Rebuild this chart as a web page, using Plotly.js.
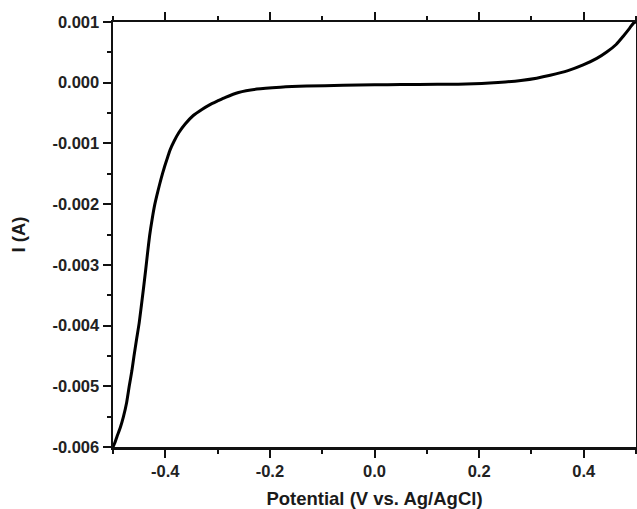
<!DOCTYPE html>
<html>
<head>
<meta charset="utf-8">
<script src="https://cdn.plot.ly/plotly-3.0.1.min.js"></script>
<style>html,body{margin:0;padding:0;background:#fff;}#chart{width:637px;height:509px;}</style>
</head>
<body>
<div id="chart"></div>
<script>
const potential = [-0.5, -0.496, -0.492, -0.486, -0.480, -0.474, -0.469, -0.464, -0.460, -0.455, -0.450, -0.446, -0.442, -0.4375, -0.434, -0.430, -0.425, -0.420, -0.414, -0.408, -0.402, -0.396, -0.391, -0.383, -0.374, -0.362, -0.3465, -0.33, -0.3145, -0.30, -0.285, -0.26, -0.225, -0.18, -0.13, -0.06, 0.0, 0.05, 0.12, 0.16, 0.19, 0.22, 0.25, 0.28, 0.31, 0.336, 0.37, 0.399, 0.425, 0.444, 0.462, 0.476, 0.488, 0.495, 0.5];
const current = [-0.006, -0.00592, -0.00582, -0.00568, -0.0055, -0.00527, -0.0050, -0.00475, -0.00451, -0.00423, -0.00396, -0.00369, -0.00341, -0.00308, -0.00281, -0.00252, -0.00224, -0.00200, -0.00178, -0.00158, -0.00140, -0.00124, -0.00111, -0.00096, -0.00082, -0.00068, -0.00054, -0.00044, -0.00036, -0.0003, -0.00024, -0.00016, -0.000105, -0.000075, -0.000056, -0.000042, -0.000035, -0.00003, -0.000027, -0.000024, -0.000018, -0.000006, 0.000012, 0.000038, 0.000075, 0.000122, 0.000198, 0.000292, 0.0004, 0.000505, 0.00063, 0.00077, 0.0009, 0.00098, 0.001];
const xTickVals = [-0.4, -0.2, 0.0, 0.2, 0.4];
const xTickText = ["-0.4", "-0.2", "0.0", "0.2", "0.4"];
const yTickVals = [0.001, 0.0, -0.001, -0.002, -0.003, -0.004, -0.005, -0.006];
const yTickText = ["0.001", "0.000", "-0.001", "-0.002", "-0.003", "-0.004", "-0.005", "-0.006"];

const tickFont = {family: "Liberation Sans, Arial, sans-serif", size: 16.5, color: "#222", weight: "bold"};
const titleFont = {family: "Liberation Sans, Arial, sans-serif", size: 18.5, color: "#1a1a1a", weight: "bold"};

Plotly.newPlot("chart", [{
  x: potential, y: current, type: "scatter", mode: "lines",
  line: {color: "#000", width: 3, shape: "spline", smoothing: 0.6},
  hoverinfo: "none"
}], {
  width: 637, height: 509,
  margin: {l: 113, r: 1, t: 22, b: 62},
  paper_bgcolor: "#fff", plot_bgcolor: "#fff",
  showlegend: false,
  xaxis: {
    range: [-0.5, 0.5], tickvals: xTickVals, ticktext: xTickText,
    ticks: "outside", ticklen: 8, tickwidth: 2, tickcolor: "#111",
    showline: true, linewidth: 2.5, linecolor: "#111", mirror: "ticks",
    showgrid: false, zeroline: false, tickfont: tickFont,
    minor: {dtick: 0.1, tick0: 0, ticks: "outside", ticklen: 4, tickwidth: 2, tickcolor: "#111", showgrid: false},
    title: {text: "Potential (V vs. Ag/AgCl)", font: titleFont, standoff: 14}
  },
  yaxis: {
    range: [-0.006, 0.001], tickvals: yTickVals, ticktext: yTickText,
    ticks: "outside", ticklen: 8, tickwidth: 2, tickcolor: "#111",
    showline: true, linewidth: 2.5, linecolor: "#111", mirror: true,
    showgrid: false, zeroline: false, tickfont: tickFont,
    minor: {dtick: 0.0005, tick0: 0, ticks: "outside", ticklen: 4, tickwidth: 2, tickcolor: "#111", showgrid: false},
    title: {text: "I (A)", font: titleFont, standoff: 22}
  }
}, {staticPlot: true});
</script>
</body>
</html>
